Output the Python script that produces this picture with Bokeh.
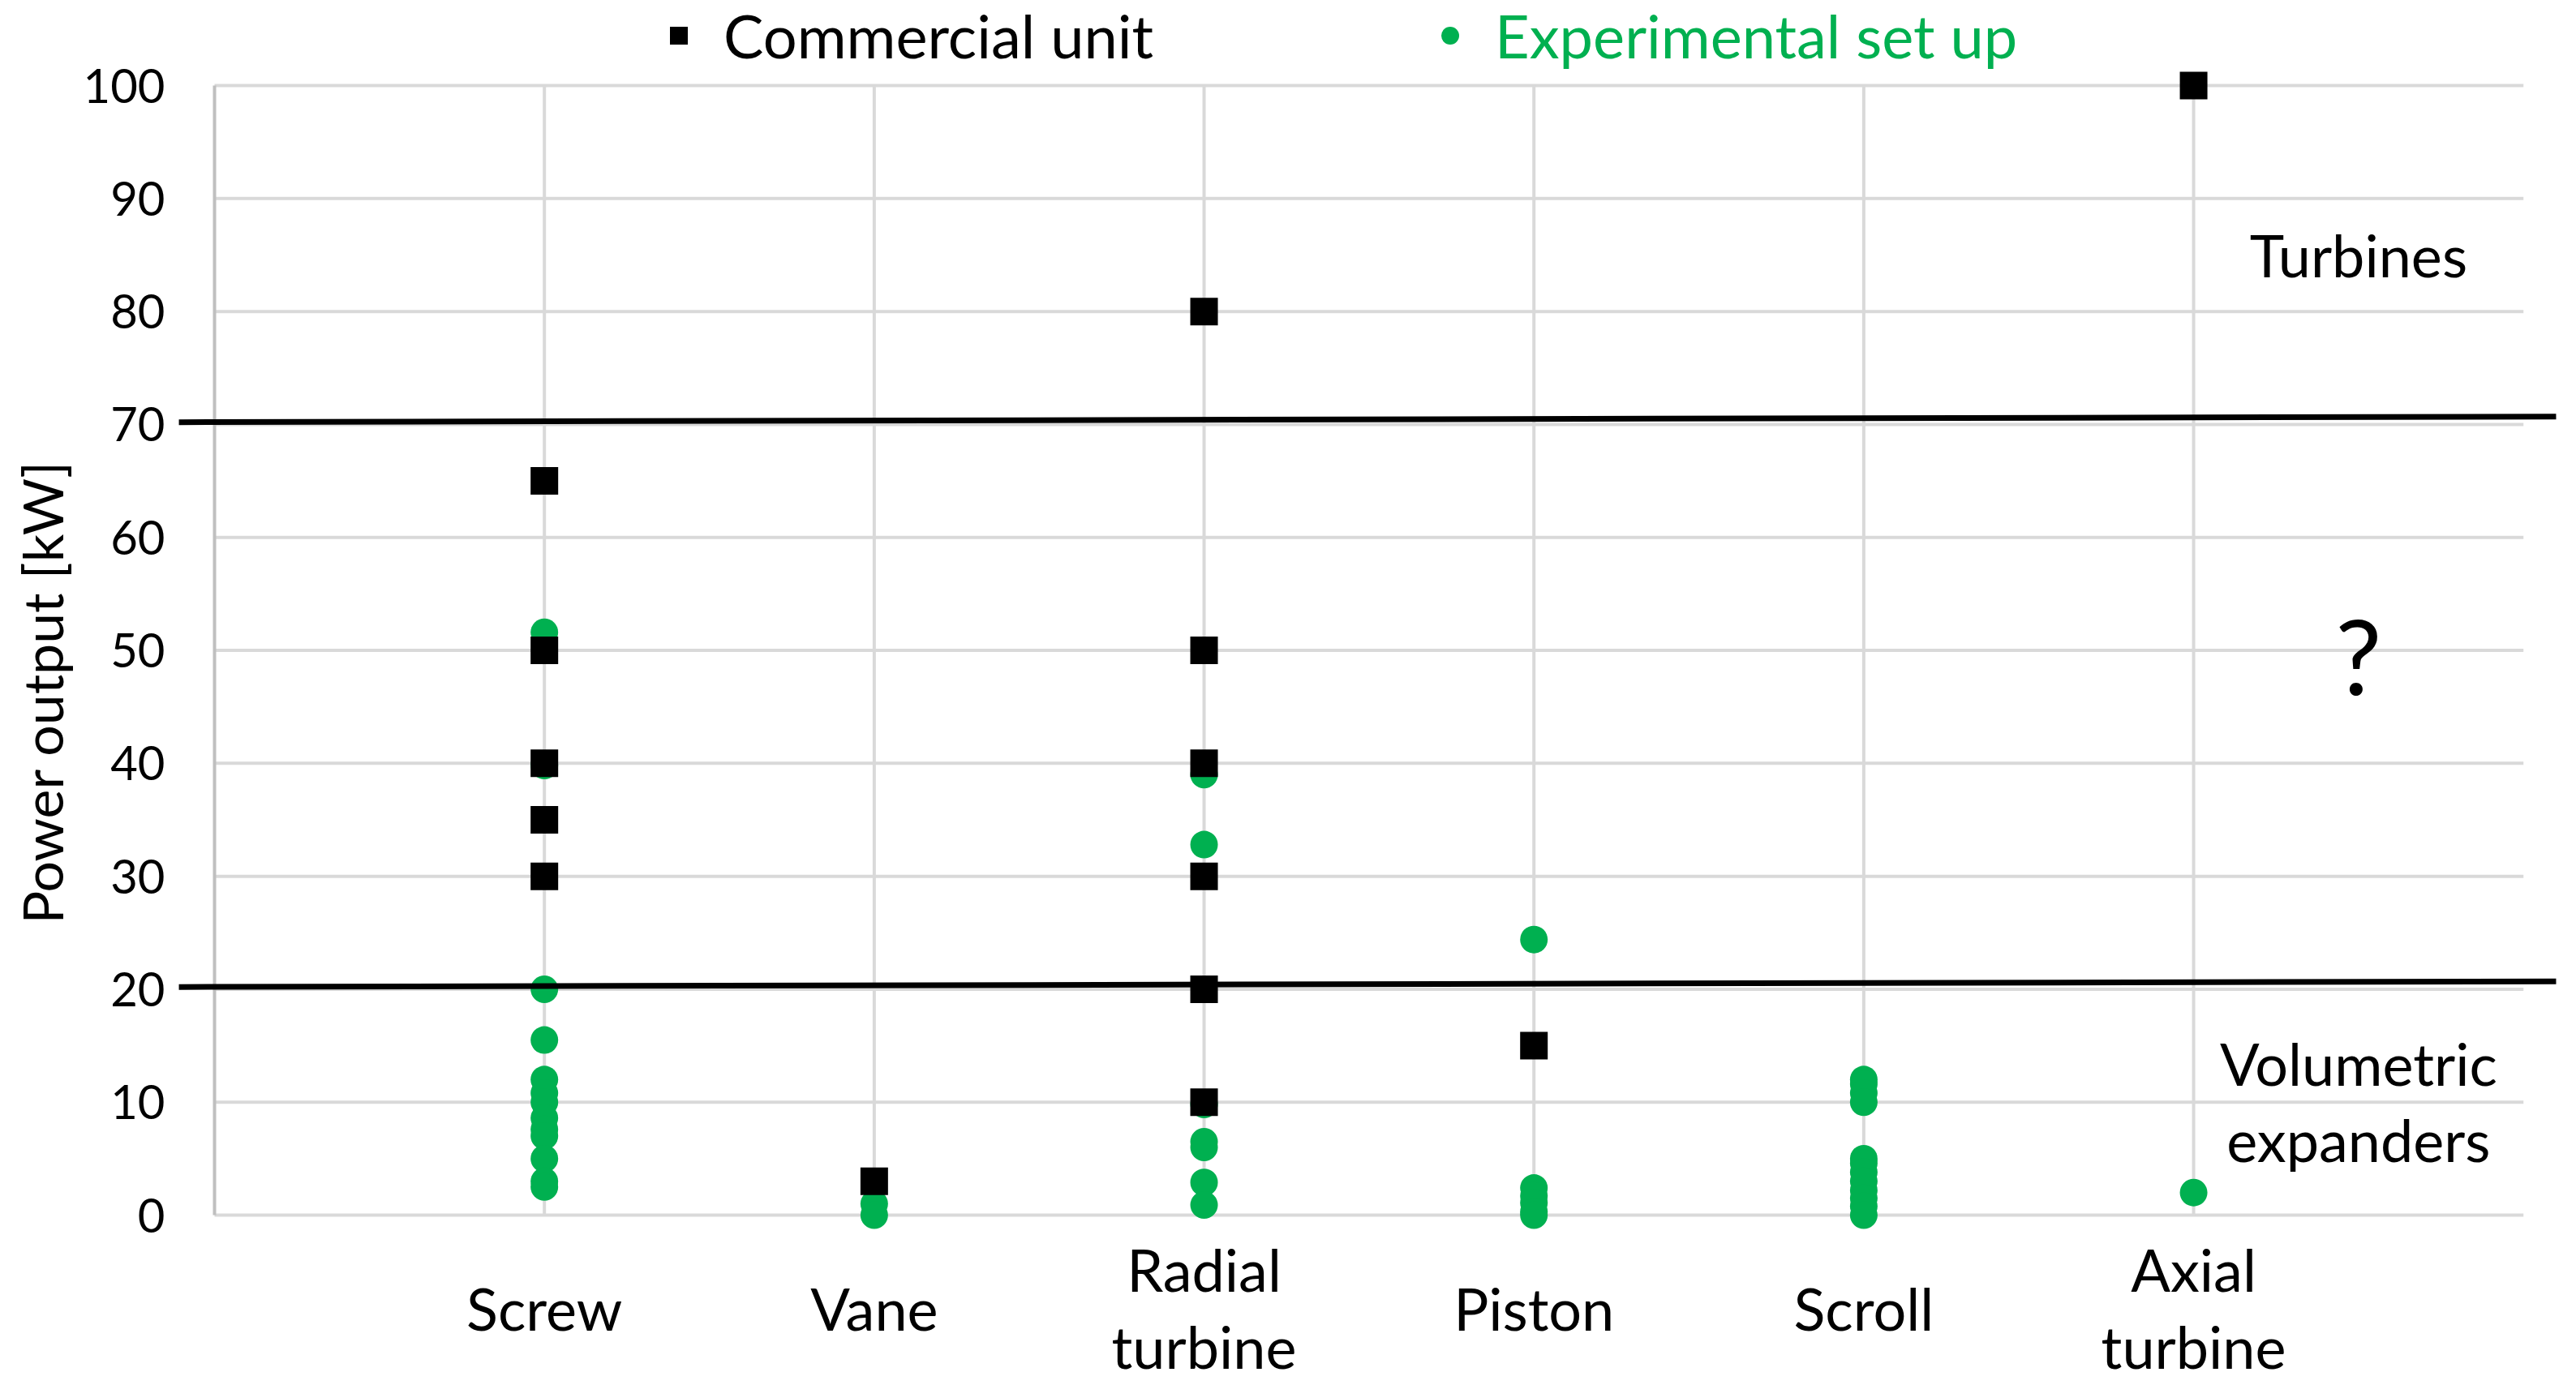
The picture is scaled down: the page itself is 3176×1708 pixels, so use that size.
import math
from bokeh.plotting import figure
from bokeh.models import ColumnDataSource, Range1d, FixedTicker, Legend, LegendItem, Title
from bokeh.core.properties import value
from bokeh.embed import file_html
from bokeh.resources import INLINE

# ---- data -------------------------------------------------------------
categories = ["Screw", "Vane", "Radial\nturbine", "Piston", "Scroll", "Axial\nturbine"]
category_pos = [1, 2, 3, 4, 5, 6]

# Commercial units (kW)
com_screw = [65, 50, 40, 35, 30]
com_vane = [3]
com_radial = [80, 50, 40, 30, 20, 10]
com_piston = [15]
com_scroll = []
com_axial = [100]

# Experimental set ups (kW)
exp_screw = [51.6, 39.8, 20.0, 15.5, 12.0, 10.8, 10.0, 8.6, 7.6, 7.0, 5.0, 3.0, 2.5]
exp_vane = [1.0, 0.0]
exp_radial = [39.0, 32.8, 9.8, 6.5, 6.0, 2.9, 0.9]
exp_piston = [24.4, 2.4, 1.7, 1.1, 0.3, 0.0]
exp_scroll = [12.0, 11.6, 10.8, 10.0, 5.0, 4.6, 3.8, 3.0, 2.2, 1.5, 0.8, 0.0]
exp_axial = [2.0]

y_ticks = [0, 10, 20, 30, 40, 50, 60, 70, 80, 90, 100]

# boundary lines between regions (slightly tilted hand-drawn lines)
boundary_start = [20.2, 70.2]
boundary_end = [20.7, 70.7]

region_labels = ["Turbines", "Volumetric\nexpanders"]
region_label_y = [85.0, 10.1]
question_y = [49.6]

GREEN = "#00B050"
FONT = "Lato"

com_lists = [com_screw, com_vane, com_radial, com_piston, com_scroll, com_axial]
exp_lists = [exp_screw, exp_vane, exp_radial, exp_piston, exp_scroll, exp_axial]

com_src = ColumnDataSource(dict(
    x=[category_pos[i] for i, l in enumerate(com_lists) for _ in l],
    y=[v for l in com_lists for v in l]))
exp_src = ColumnDataSource(dict(
    x=[category_pos[i] for i, l in enumerate(exp_lists) for _ in l],
    y=[v for l in exp_lists for v in l]))

# ---- figure -----------------------------------------------------------
p = figure(width=3168, height=1706, title=None,
           x_range=Range1d(-0.1205, 7.099), y_range=Range1d(-14.93, 107.54),
           x_axis_location=None, toolbar_location=None, output_backend="svg",
           min_border_left=214, min_border_right=17, min_border_top=0, min_border_bottom=0)
p.outline_line_color = None
p.xgrid.visible = False
p.ygrid.visible = False
p.background_fill_color = "white"

# grid lines
n_slots = len(categories) + 1
p.segment(x0=[0] * len(y_ticks), x1=[n_slots] * len(y_ticks), y0=y_ticks, y1=y_ticks,
          line_color="#d9d9d9", line_width=4)
p.segment(x0=category_pos, x1=category_pos, y0=[y_ticks[0]] * len(category_pos),
          y1=[y_ticks[-1]] * len(category_pos), line_color="#d9d9d9", line_width=4)
p.segment(x0=[0], x1=[0], y0=[y_ticks[0]], y1=[y_ticks[-1]], line_color="#bfbfbf", line_width=4)

# y axis
ax = p.yaxis[0]
ax.ticker = FixedTicker(ticks=y_ticks)
ax.axis_line_color = None
ax.major_tick_line_color = None
ax.minor_tick_line_color = None
ax.major_tick_in = 0
ax.major_tick_out = 0
ax.major_label_standoff = 12
ax.major_label_text_font = FONT
ax.major_label_text_font_size = "58px"
ax.major_label_text_color = "black"

# y axis title (as a side title so it can be centred on the 0-100 span)
p.add_layout(Title(text="Power output [kW]", align="center", offset=96, standoff=16,
                   text_font=FONT, text_font_size="68px", text_font_style="normal",
                   text_color="black"), "left")

# data
r_exp = p.scatter("x", "y", source=exp_src, marker="circle", size=34,
                  fill_color=GREEN, line_color=None)
r_com = p.scatter("x", "y", source=com_src, marker="square", size=34,
                  fill_color="black", line_color=None)

# boundary lines
p.segment(x0=[-0.108] * 2, x1=[7.1] * 2, y0=boundary_start, y1=boundary_end,
          line_color="black", line_width=7)

# category labels
p.text(x=category_pos, y=[-8.2] * len(categories), text=categories,
       text_font=value(FONT), text_font_size="72px", text_align="center",
       text_baseline="middle", text_line_height=1.1, text_color="black")

# region labels
p.text(x=[6.5] * len(region_labels), y=region_label_y, text=region_labels,
       text_font=value(FONT), text_font_size="72px", text_align="center",
       text_baseline="middle", text_line_height=1.1, text_color="black")
p.text(x=[6.5], y=question_y, text=["?"], text_font=value(FONT), text_font_size="128px",
       text_align="center", text_baseline="middle", text_color="black")

# legends
def make_legend(label, renderer, color, x):
    lg = Legend(items=[LegendItem(label=label, renderers=[renderer])],
                location=(x, 1618), orientation="horizontal",
                glyph_width=55, glyph_height=55, label_standoff=28,
                label_text_font=FONT, label_text_font_size="74px", label_text_color=color,
                padding=0, margin=0, border_line_color=None, background_fill_alpha=0)
    return lg

p.add_layout(make_legend("Commercial unit", r_com, "black", 594))
p.add_layout(make_legend("Experimental set up", r_exp, GREEN, 1545))

open("out.html", "w").write(file_html(p, INLINE))
